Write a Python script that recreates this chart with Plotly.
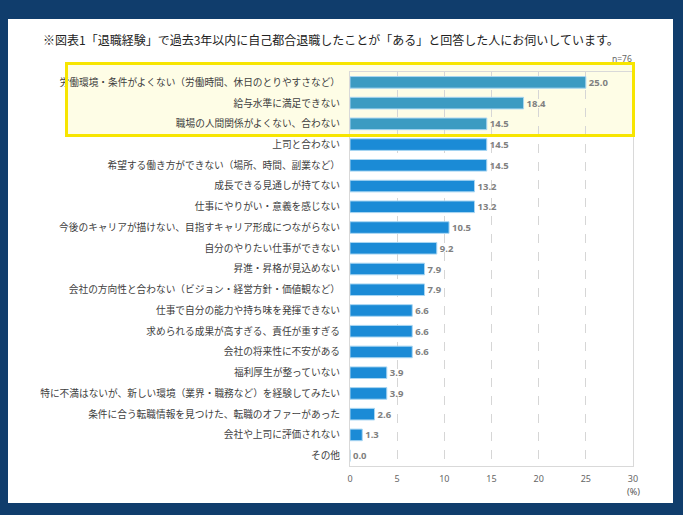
import plotly.graph_objects as go

W, H = 683, 515
L, R, T, B = 350, 50, 72, 49

reasons = [
    "労働環境・条件がよくない（労働時間、休日のとりやすさなど）",
    "給与水準に満足できない",
    "職場の人間関係がよくない、合わない",
    "上司と合わない",
    "希望する働き方ができない（場所、時間、副業など）",
    "成長できる見通しが持てない",
    "仕事にやりがい・意義を感じない",
    "今後のキャリアが描けない、目指すキャリア形成につながらない",
    "自分のやりたい仕事ができない",
    "昇進・昇格が見込めない",
    "会社の方向性と合わない（ビジョン・経営方針・価値観など）",
    "仕事で自分の能力や持ち味を発揮できない",
    "求められる成果が高すぎる、責任が重すぎる",
    "会社の将来性に不安がある",
    "福利厚生が整っていない",
    "特に不満はないが、新しい環境（業界・職務など）を経験してみたい",
    "条件に合う転職情報を見つけた、転職のオファーがあった",
    "会社や上司に評価されない",
    "その他",
]
percent = [25.0, 18.4, 14.5, 14.5, 14.5, 13.2, 13.2, 10.5, 9.2, 7.9, 7.9,
           6.6, 6.6, 6.6, 3.9, 3.9, 2.6, 1.3, 0.0]
x_ticks = [0, 5, 10, 15, 20, 25, 30]
highlighted = 3

pw, ph = W - L - R, H - T - B


def px_x(px):
    return (px - L) / pw


def px_y(py):
    return (H - B - py) / ph


colors = ["#3c9bc2" if i < highlighted else "#1b8bd6" for i in range(len(reasons))]

fig = go.Figure(go.Bar(
    x=percent,
    y=reasons,
    orientation="h",
    marker=dict(color=colors, line=dict(color="#a9d6f2", width=1)),
    text=[f"{v:.1f}" for v in percent],
    textposition="outside",
    constraintext="none",
    cliponaxis=False,
    textfont=dict(size=9.5, color="#808080", family="Noto Sans", weight="bold"),
))

fig.update_layout(
    width=W, height=H,
    margin=dict(l=L, r=R, t=T, b=B),
    paper_bgcolor="#103d6c",
    plot_bgcolor="rgba(0,0,0,0)",
    showlegend=False,
    bargap=0.44,
    font=dict(family="Noto Sans CJK JP", color="#404040"),
    shapes=[
        # white panel
        dict(type="rect", xref="paper", yref="paper", layer="below",
             x0=px_x(8), x1=px_x(673), y0=px_y(503), y1=px_y(19),
             fillcolor="white", line=dict(width=0)),
        # highlight box
        dict(type="rect", xref="paper", yref="paper", layer="below",
             x0=px_x(66.5), x1=px_x(633.5), y0=px_y(135.5), y1=px_y(63.5),
             fillcolor="#fefde6", line=dict(width=0)),
        dict(type="rect", xref="paper", yref="paper", layer="above",
             x0=px_x(66.5), x1=px_x(633.5), y0=px_y(135.5), y1=px_y(63.5),
             fillcolor="rgba(0,0,0,0)", line=dict(color="#f7e500", width=3)),
    ],
    annotations=[
        dict(text="※図表1「退職経験」で過去3年以内に自己都合退職したことが「ある」と回答した人にお伺いしています。",
             xref="paper", yref="paper", x=px_x(41), y=px_y(40),
             xanchor="left", yanchor="middle", showarrow=False,
             font=dict(size=12, color="#222222")),
        dict(text="n=76", xref="paper", yref="paper", x=px_x(634), y=px_y(58),
             xanchor="right", yanchor="middle", showarrow=False,
             font=dict(size=8.5, color="#666666", family="Noto Sans")),
        dict(text="(%)", xref="paper", yref="paper", x=px_x(642), y=px_y(491),
             xanchor="right", yanchor="middle", showarrow=False,
             font=dict(size=9, color="#555555", family="Noto Sans")),
    ],
)

fig.update_xaxes(
    range=[0, 30], tickvals=x_ticks, showgrid=True,
    gridcolor="#d6d6d6", griddash="dash", gridwidth=1,
    showline=True, linecolor="#d9d9d9", mirror=True,
    zeroline=False, ticks="", ticklabelstandoff=4,
    tickfont=dict(size=9, color="#666666", family="Noto Sans"),
)
fig.update_yaxes(
    autorange="reversed", showgrid=False, showline=True,
    linecolor="#d9d9d9", mirror=True, ticks="", ticklabelstandoff=7,
    tickfont=dict(size=9.7, color="#404040"),
)

# page body has an 8px default margin; drop it so the figure fills the window
fig.write_html("out.html", config={"displayModeBar": False},
               post_script="document.body.style.margin='0px';")
